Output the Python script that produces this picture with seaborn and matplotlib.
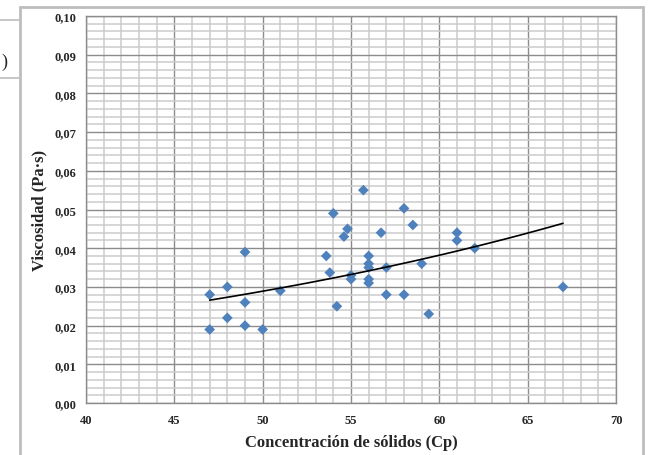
import numpy as np
import pandas as pd
import seaborn as sns
import matplotlib.pyplot as plt
from matplotlib.ticker import MultipleLocator, FuncFormatter
from matplotlib.patches import Rectangle
from matplotlib.lines import Line2D

# Data
cp = [47, 47, 48, 48, 49, 49, 49, 50, 51, 53.6, 53.8, 54, 54.2, 54.6, 54.8,
      55, 55, 55.7, 56, 56, 56, 56, 56, 56.7, 57, 57, 58, 58, 58.5, 59,
      59.4, 61, 61, 62, 67]
visc = [0.019, 0.028, 0.030, 0.022, 0.039, 0.026, 0.020, 0.019, 0.029, 0.038,
        0.0337, 0.049, 0.025, 0.043, 0.045, 0.033, 0.032, 0.055, 0.038, 0.036,
        0.035, 0.032, 0.031, 0.044, 0.035, 0.028, 0.0503, 0.028, 0.046, 0.036,
        0.023, 0.044, 0.042, 0.040, 0.030]

x_label = "Concentración de sólidos (Cp)"
y_label = "Viscosidad (Pa·s)"

df = pd.DataFrame({"Cp": cp, "Visc": visc})

sns.set_theme(style="white")
plt.rcParams['font.family'] = ['Liberation Serif', 'DejaVu Serif']

fig = plt.figure(figsize=(6.49, 4.56), dpi=100)
ax = fig.add_axes([86/649, 1-404/456, 530/649, 387/456])

# Gridlines
ax.xaxis.set_major_locator(MultipleLocator(5))
ax.xaxis.set_minor_locator(MultipleLocator(1))
ax.yaxis.set_major_locator(MultipleLocator(0.01))
ax.yaxis.set_minor_locator(MultipleLocator(0.002))
ax.grid(which='minor', color='#cbcbcb', lw=1.1, zorder=0)
ax.grid(which='major', color='#8c8c8c', lw=1.0, zorder=0)
ax.set_axisbelow(True)

sns.scatterplot(data=df, x="Cp", y="Visc", ax=ax, marker='D', s=30,
                color='#4F81BD', edgecolor='none', zorder=3, legend=False)

# Exponential trendline (least squares on ln y, as in Excel)
b, ln_a = np.polyfit(np.array(cp), np.log(np.array(visc)), 1)
xt = np.linspace(min(cp), max(cp), 100)
ax.plot(xt, np.exp(ln_a) * np.exp(b * xt), color='black', lw=1.2, zorder=4)

ax.set_xlim(40, 70)
ax.set_ylim(0, 0.10)
ax.yaxis.set_major_formatter(FuncFormatter(lambda v, p: f"{v:.2f}".replace('.', ',')))
ax.xaxis.set_major_formatter(FuncFormatter(lambda v, p: f"{v:.0f}"))

ax.tick_params(axis='both', which='major', length=4, width=1, color='#8c8c8c',
               labelsize=9, pad=3, direction='out')
ax.tick_params(axis='x', which='major', pad=4)
ax.tick_params(which='minor', length=0)
for lab in ax.get_xticklabels() + ax.get_yticklabels():
    lab.set_fontweight('bold')
for s in ax.spines.values():
    s.set_color('#8c8c8c')
    s.set_linewidth(1)

ax.set_xlabel(x_label, fontsize=12, fontweight='bold', labelpad=6)
ax.set_ylabel(y_label, fontsize=12, fontweight='bold', labelpad=5)

# Chart frame and background artifacts
fig.add_artist(Rectangle((20/649, -0.2), 623/649, (456-8)/456 + 0.2,
                         transform=fig.transFigure, fill=False,
                         edgecolor='#bdbdbd', lw=2))
for yy in (21, 79):
    fig.add_artist(Line2D([0, 19/649], [1-yy/456, 1-yy/456],
                          transform=fig.transFigure, color='#bdbdbd', lw=1.2))
fig.text(1/649, 1-62/456, ")", fontsize=13, va='center', ha='left')

fig.savefig("out.png", dpi=100)
